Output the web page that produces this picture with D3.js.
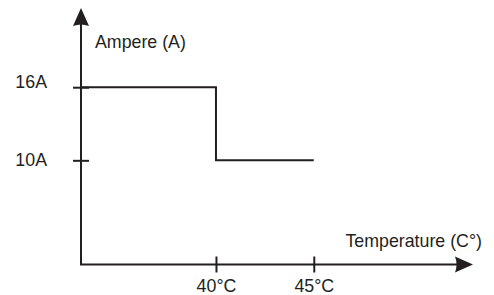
<!DOCTYPE html>
<html>
<head>
<meta charset="utf-8">
<script src="https://cdn.jsdelivr.net/npm/d3@7"></script>
<style>
  body { margin: 0; background: #fff; }
  svg text { font-family: "Liberation Sans", Arial, Helvetica, sans-serif; fill: #231f20; }
</style>
</head>
<body>
<div id="chart-area"></div>
<script>
/*
*    current derating vs temperature
*/

// data
var tempTicks = [40, 45];
var tempLabels = ["40°C", "45°C"];
var ampTicks = [10, 16];
var ampLabels = ["10A", "16A"];
var stepTemps = [33.1, 40, 45];   // first point sits on the y axis
var stepAmps = [16, 10, 10];

var xTitle = "Temperature (C°)";
var yTitle = "Ampere (A)";

var width = 494, height = 295;
var ink = "#231f20";
var fontSize = 17.8;

var svg = d3.select("#chart-area")
    .append("svg")
    .attr("width", width)
    .attr("height", height);

// scales
var x = d3.scaleLinear()
    .domain([33.1, 53.14])
    .range([81, 473]);

var y = d3.scaleLinear()
    .domain([1.45, 22.5])
    .range([264.5, 8]);

var x0 = x.range()[0], y0 = y.range()[0];

// axis lines with arrowheads
var axes = svg.append("g");
axes.append("line")
    .attr("x1", x0).attr("y1", y0)
    .attr("x2", x0).attr("y2", y.range()[1] + 14)
    .attr("stroke", ink).attr("stroke-width", 2);
axes.append("line")
    .attr("x1", x0 - 1).attr("y1", y0)
    .attr("x2", x.range()[1] - 14).attr("y2", y0)
    .attr("stroke", ink).attr("stroke-width", 2);

// y arrow (pointing up)
var yt = y.range()[1];
axes.append("path")
    .attr("d", "M" + x0 + "," + yt + " L" + (x0 + 8) + "," + (yt + 18) +
        " Q" + x0 + "," + (yt + 15) + " " + (x0 - 8) + "," + (yt + 18) + " Z")
    .attr("fill", ink);
// x arrow (pointing right)
var xt = x.range()[1];
axes.append("path")
    .attr("d", "M" + xt + "," + y0 + " L" + (xt - 18) + "," + (y0 - 8) +
        " Q" + (xt - 15) + "," + y0 + " " + (xt - 18) + "," + (y0 + 8) + " Z")
    .attr("fill", ink);

// X Axis ticks
var xAxis = d3.axisBottom(x)
    .tickValues(tempTicks)
    .tickSize(8)
    .tickFormat(function(d, i){ return tempLabels[i]; });
var xg = svg.append("g")
    .attr("transform", "translate(0," + y0 + ")")
    .call(xAxis);
xg.select(".domain").remove();
xg.selectAll(".tick line")
    .attr("y1", -8).attr("y2", 8)
    .attr("stroke", ink).attr("stroke-width", 2);
xg.selectAll(".tick text")
    .attr("y", 27).attr("dy", 0)
    .attr("font-size", fontSize)
    .attr("font-family", null)
    .attr("fill", ink);

// Y Axis ticks
var yAxis = d3.axisLeft(y)
    .tickValues(ampTicks)
    .tickSize(8)
    .tickFormat(function(d, i){ return ampLabels[i]; });
var yg = svg.append("g")
    .attr("transform", "translate(" + x0 + ",0)")
    .call(yAxis);
yg.select(".domain").remove();
yg.selectAll(".tick line")
    .attr("x1", -8).attr("x2", 8)
    .attr("stroke", ink).attr("stroke-width", 2);
yg.selectAll(".tick text")
    .attr("x", -34)
    .attr("dy", function(d){ return d === 16 ? "0" : "0.3em"; })
    .attr("font-size", fontSize)
    .attr("font-family", null)
    .attr("fill", ink);

// step line
var pts = stepTemps.map(function(t, i){ return [t, stepAmps[i]]; });
var line = d3.line()
    .x(function(d){ return x(d[0]); })
    .y(function(d){ return y(d[1]); })
    .curve(d3.curveStepAfter);
svg.append("path")
    .datum(pts)
    .attr("d", line)
    .attr("fill", "none")
    .attr("stroke", ink)
    .attr("stroke-width", 2);

// axis titles
svg.append("text")
    .attr("x", 95).attr("y", 48)
    .attr("font-size", fontSize)
    .text(yTitle);
svg.append("text")
    .attr("x", 482).attr("y", 247)
    .attr("text-anchor", "end")
    .attr("font-size", fontSize)
    .text(xTitle);
</script>
</body>
</html>
